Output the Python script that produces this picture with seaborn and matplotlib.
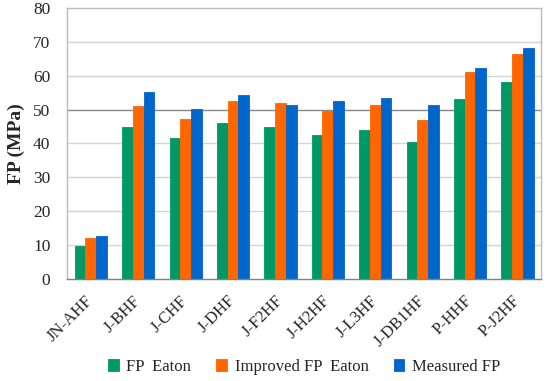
import matplotlib
matplotlib.use("Agg")
import matplotlib.pyplot as plt
import seaborn as sns
import pandas as pd
import numpy as np

categories = ["JN-AHF", "J-BHF", "J-CHF", "J-DHF", "J-F2HF", "J-H2HF",
              "J-L3HF", "J-DB1HF", "P-HHF", "P-J2HF"]
fp_eaton = [9.8, 44.8, 41.7, 45.9, 45.0, 42.5, 44.0, 40.5, 53.0, 58.2]
improved_fp_eaton = [12.2, 51.0, 47.2, 52.6, 51.9, 49.6, 51.5, 46.8, 61.1, 66.5]
measured_fp = [12.7, 55.3, 50.2, 54.4, 51.5, 52.4, 53.3, 51.5, 62.3, 68.3]
series_names = ["FP  Eaton", "Improved FP  Eaton", "Measured FP"]
colors = ["#009966", "#FF6600", "#0066CC"]
y_ticks = [0, 10, 20, 30, 40, 50, 60, 70, 80]

rows = []
for name, vals in zip(series_names, [fp_eaton, improved_fp_eaton, measured_fp]):
    for c, v in zip(categories, vals):
        rows.append({"cat": c, "series": name, "val": v})
df = pd.DataFrame(rows)

sns.set_style("white")
plt.rcParams["font.family"] = ["Liberation Serif", "DejaVu Serif"]

fig = plt.figure(figsize=(5.5, 3.81), dpi=100)
ax = fig.add_axes([0.122, 0.268, 0.862, 0.711])

for t in y_ticks[1:-1]:
    ax.axhline(t, color="#888888" if t == 50 else "#d4d4d4", lw=1.0, zorder=0)

sns.barplot(data=df, x="cat", y="val", hue="series", order=categories,
            hue_order=series_names, palette=colors, width=0.68, saturation=1,
            linewidth=0, ax=ax, zorder=2, legend=True)
for p in ax.patches:
    p.set_edgecolor(p.get_facecolor())
    p.set_linewidth(0.6)

ax.set_ylim(0, 80)
ax.set_xlim(-0.5, len(categories) - 0.5)
ax.set_yticks(y_ticks)
ax.set_yticklabels([str(t) for t in y_ticks], fontsize=12.5)
ax.set_xticks(range(len(categories)))
ax.set_xticklabels(categories, rotation=45, ha="right", va="center",
                   rotation_mode="anchor", fontsize=12)
ax.tick_params(axis="x", length=0, pad=14)
ax.tick_params(axis="y", length=0, pad=12)
ax.set_xticks(np.arange(0.5, len(categories) - 0.5, 1.0), minor=True)
ax.tick_params(axis="x", which="minor", length=4, color="#808080", direction="out")
ax.set_xlabel("")
ax.set_ylabel("FP (MPa)", fontsize=14, fontweight="bold", labelpad=6)

for s in ["left", "right", "top"]:
    ax.spines[s].set_color("#bbbbbb")
    ax.spines[s].set_linewidth(1.0)
ax.spines["bottom"].set_color("#808080")
ax.spines["bottom"].set_linewidth(1.0)

handles, labels = ax.get_legend_handles_labels()
ax.get_legend().remove()
fig.legend(handles, labels, loc="center", bbox_to_anchor=(0.553, 0.037), ncol=3,
           frameon=False, fontsize=12, handlelength=0.65, handleheight=0.65,
           handletextpad=0.45, columnspacing=1.5, borderpad=0)

fig.savefig("out.png", dpi=100)
